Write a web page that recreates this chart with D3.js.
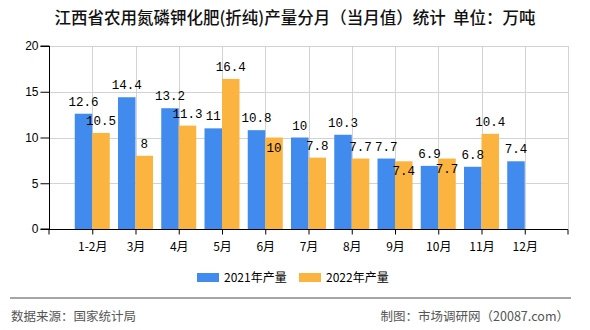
<!DOCTYPE html>
<html><head><meta charset="utf-8">
<script src="https://cdn.jsdelivr.net/npm/d3@7"></script>
<style>
html,body{margin:0;padding:0;background:#fff;}
svg{display:block;}
</style></head>
<body>
<svg id="c" width="590" height="330"></svg>
<script>
const categories = ["1-2月","3月","4月","5月","6月","7月","8月","9月","10月","11月","12月"];
const values2021 = [12.6,14.4,13.2,11,10.8,10,10.3,7.7,6.9,6.8,7.4];
const values2022 = [10.5,8,11.3,16.4,10,7.8,7.7,7.4,7.7,10.4,null];
const seriesNames = ["2021年产量","2022年产量"];
const yTicks = [0,5,10,15,20];
const titleText = "江西省农用氮磷钾化肥(折纯)产量分月（当月值）统计  单位：万吨";
const sourceText = "数据来源：国家统计局";
const creditText = "制图：市场调研网（20087.com）";

(function(){
const colors = ["#428BEE","#FBB440"];
const svg = d3.select("#c");
const pl = 49, pr = 568, pt = 46, pb = 229;

const x = d3.scalePoint().domain(categories).range([pl, pr]).padding(1);
const y = d3.scaleLinear().domain([0,20]).range([pb, pt]);
const barW = 17.5;

// grid
const g = svg.append("g");
g.selectAll("line.h").data(yTicks.filter(d=>d>0)).join("line")
  .attr("x1",pl).attr("x2",pr).attr("y1",d=>Math.round(y(d))+0.5).attr("y2",d=>Math.round(y(d))+0.5)
  .attr("stroke","#d3d3d3").attr("stroke-width",1);
g.selectAll("line.v").data(categories.map(c=>x(c)).concat([pr])).join("line")
  .attr("x1",d=>Math.round(d)+0.5).attr("x2",d=>Math.round(d)+0.5).attr("y1",pt).attr("y2",pb)
  .attr("stroke","#d3d3d3").attr("stroke-width",1);

// bars
const series = [values2021, values2022];
series.forEach((vals,si)=>{
  svg.append("g").selectAll("rect").data(categories.map((c,i)=>({c,v:vals[i]})).filter(d=>d.v!=null))
    .join("rect")
    .attr("x",d=> si===0 ? x(d.c)-barW : x(d.c))
    .attr("width",barW)
    .attr("y",d=>y(d.v)).attr("height",d=>pb-y(d.v))
    .attr("fill",colors[si]);
});

// axes
const yAxis = svg.append("g").attr("transform",`translate(${pl+0.5},0)`)
  .call(d3.axisLeft(y).tickValues(yTicks).tickSize(9).tickPadding(2));
yAxis.selectAll("text").attr("font-family","Liberation Sans, Arial, sans-serif").attr("font-size","12px").attr("fill","#000");
const xAxis = svg.append("g").attr("transform",`translate(0,${pb+0.5})`)
  .call(d3.axisBottom(x).tickSize(5).tickPadding(6).tickSizeOuter(5));
xAxis.selectAll("text").attr("font-family","Noto Sans CJK SC, sans-serif").attr("font-size","12px").attr("fill","#000").attr("dy","0.9em");
[yAxis,xAxis].forEach(a=>{a.selectAll("path,line").attr("stroke","#000");});
xAxis.select("path.domain").attr("d",`M${pl},5V0H${pr}V5`);
yAxis.select("path.domain").attr("d",`M-9,${pt}H0V${pb}H-9`);

// data labels
const labelFont = "Liberation Mono, DejaVu Sans Mono, monospace";
const lab = svg.append("g").attr("font-family",labelFont).attr("font-size","12.5px").attr("fill","#000").attr("text-anchor","middle");
categories.forEach((c,i)=>{
  const a = values2021[i], b = values2022[i];
  if(a!=null){
    lab.append("text").attr("x",x(c)-barW/2).attr("y",y(a)-8).text(a);
  }
  if(b!=null){
    let ly = y(b)-8;
    if(a!=null && Math.abs(y(a)-y(b))<12) ly = y(b)+14;
    lab.append("text").attr("x",x(c)+barW/2).attr("y",ly).text(b);
  }
});

// title
svg.append("text").attr("x",295).attr("y",24).attr("text-anchor","middle")
  .attr("font-family","Noto Sans CJK SC, sans-serif").attr("font-size","16.5px").attr("font-weight","500")
  .attr("fill","#111").style("white-space","pre").text(titleText);

// legend
const lg = svg.append("g").attr("font-family","Noto Sans CJK SC, sans-serif").attr("font-size","12px");
[[197,224],[299,326]].forEach((p,i)=>{
  lg.append("rect").attr("x",p[0]).attr("y",273).attr("width",22).attr("height",9).attr("fill",colors[i]);
  lg.append("text").attr("x",p[1]).attr("y",282).attr("fill","#000").text(seriesNames[i]);
});

// footer
svg.append("line").attr("x1",10).attr("x2",571).attr("y1",298).attr("y2",298).attr("stroke","#888").attr("stroke-width",1.5);
svg.append("text").attr("x",11).attr("y",321).attr("font-family","Noto Sans CJK SC, sans-serif").attr("font-size","12.5px").attr("fill","#555").text(sourceText);
svg.append("text").attr("x",569).attr("y",321).attr("text-anchor","end").attr("font-family","Noto Sans CJK SC, sans-serif").attr("font-size","12.5px").attr("fill","#555").text(creditText);
})();
</script>
</body></html>
